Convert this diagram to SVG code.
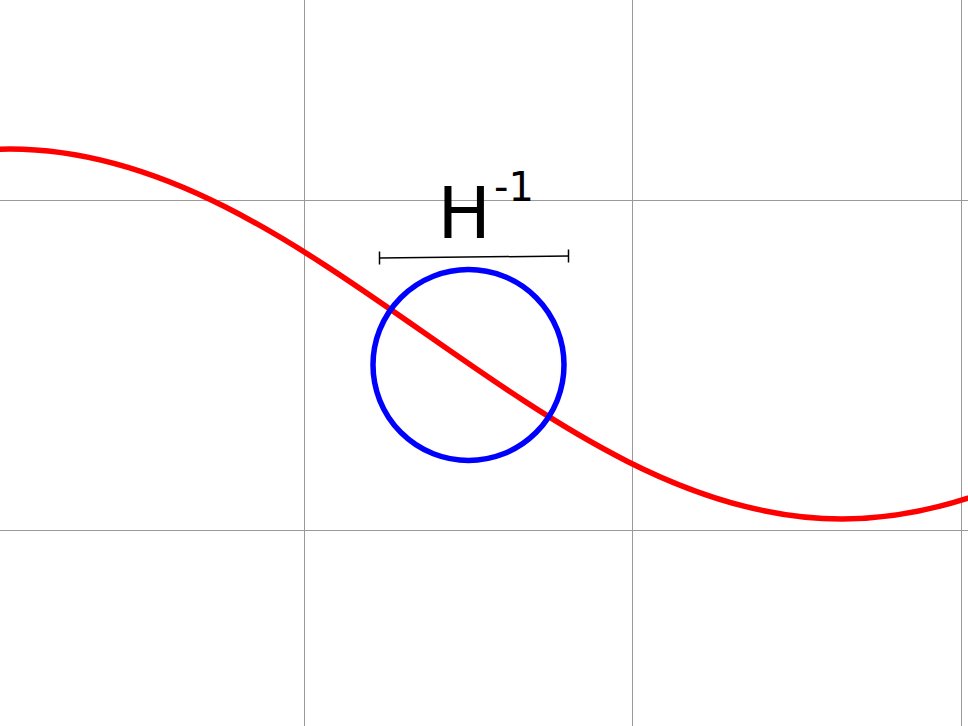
<svg xmlns="http://www.w3.org/2000/svg" width="968" height="726" viewBox="0 0 968 726">
<style>
.grid{stroke:#9a9a9a;stroke-width:1;fill:none}
.lbl{font-family:"DejaVu Sans",sans-serif;fill:#000}
</style>
<rect width="968" height="726" fill="#fff"/>
<g id="grid">
<line class="grid" x1="304.5" y1="0" x2="304.5" y2="726"/>
<line class="grid" x1="632.5" y1="0" x2="632.5" y2="726"/>
<line class="grid" x1="961.5" y1="0" x2="961.5" y2="726"/>
<line class="grid" x1="0" y1="200.5" x2="968" y2="200.5"/>
<line class="grid" x1="0" y1="530.5" x2="968" y2="530.5"/>
</g>
<g id="curve">
<path d="M-822,519 C-519.7,519 -292.3,149 10,149 C312.3,149 539.7,519 842,519 C1144.3,519 1371.7,149 1674,149" fill="none" stroke="#ff0000" stroke-width="5.5"/>
</g>
<g id="circle">
<circle cx="468.5" cy="365" r="95.5" fill="none" stroke="#0000ff" stroke-width="5.5"/>
</g>
<g id="scalebar" stroke="#000" stroke-width="1.5" fill="none">
<line x1="379.5" y1="258" x2="568.5" y2="256"/>
<line x1="379.5" y1="251.5" x2="379.5" y2="264.5"/>
<line x1="568.5" y1="249.5" x2="568.5" y2="262.5"/>
</g>
<g id="label">
<text class="lbl" x="437.5" y="238" font-size="71">H</text>
<text class="lbl" x="494" y="201" font-size="40">-1</text>
</g>
</svg>
